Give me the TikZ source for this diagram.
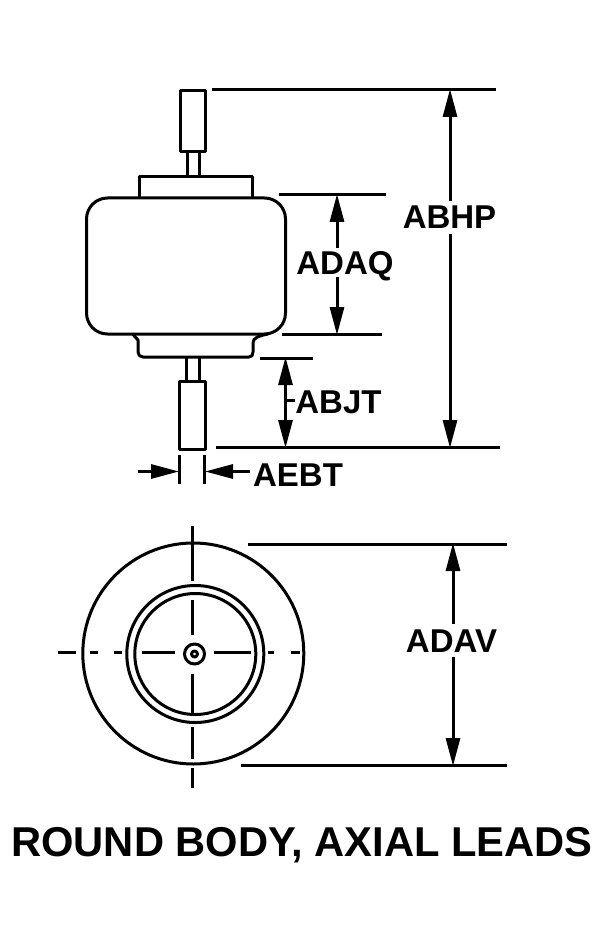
\documentclass[tikz,border=0pt]{standalone}
\usepackage{fontspec}
\setmainfont{Liberation Sans}
\usetikzlibrary{arrows.meta}
\tikzset{
  part/.style={line width=3pt,draw=black,line join=round},
  ext/.style={line width=3pt,draw=black},
  dim/.style={line width=3pt,draw=black,{Triangle[length=28pt,width=14pt]}-{Triangle[length=28pt,width=14pt]},shorten >=-1pt,shorten <=-1pt},
  single/.style={line width=3pt,draw=black,-{Triangle[length=28pt,width=14pt]},shorten >=-1pt},
  lbl/.style={font=\bfseries\fontsize{33}{33}\selectfont,text=black,inner xsep=0pt,inner ysep=5pt,anchor=base,fill=white,text depth=0pt}
}
\begin{document}
\begin{tikzpicture}[x=1pt,y=-1pt]
\useasboundingbox (0,0) rectangle (605,925);
% top view: part
\draw[part] (180.5,90.5) rectangle (205,151.5);
\draw[part] (187,152) -- (187,176) (199,152) -- (199,176);
\draw[part] (139,197) -- (139,176.5) -- (252.5,176.5) -- (252.5,197);
\draw[part,rounded corners=21pt] (86.5,198) rectangle (285.5,334);
\draw[part] (133,334.5) -- (138,340) -- (138,352) .. controls (138,355) and (140,357) .. (143,357) -- (249,357) .. controls (252,357) and (253,355) .. (253,352) -- (253,343) .. controls (253,338) and (258,336) .. (268,334);
\draw[part] (186.5,357) -- (186.5,381) (199.5,357) -- (199.5,381);
\draw[part] (179.5,381) rectangle (205,449);
% extension lines
\coordinate (hpT) at (450,90); \coordinate (hpB) at (450,447);
\coordinate (aqT) at (337,195); \coordinate (aqB) at (337,334);
\coordinate (jtT) at (285.5,358); \coordinate (jtB) at (285.5,447);
\coordinate (avT) at (453,544); \coordinate (avB) at (453,765);
\draw[ext] (212,90) -- (496,90);
\draw[ext] (279,195) -- (386,195);
\draw[ext] (282,334) -- (382,334);
\draw[ext] (260,358) -- (313,358);
\draw[ext] (216,447) -- (500,447);
\draw[ext] (248,544) -- (507,544);
\draw[ext] (241,765) -- (507,765);
\draw[ext] (179.5,455) -- (179.5,484);
\draw[ext] (204.5,455) -- (204.5,484);
% dimensions
\draw[dim] (hpT) -- (hpB);
\draw[dim] (aqT) -- (aqB);
\draw[dim] (jtT) -- (jtB);
\draw[dim] (avT) -- (avB);
\coordinate (jtTick) at (285.5,400);
\draw[ext] (jtTick) -- (295,400);
\coordinate (ebL0) at (138,471.5); \coordinate (ebL1) at (178,471.5);
\coordinate (ebR0) at (250,471.5); \coordinate (ebR1) at (206,471.5);
\draw[single] (ebL0) -- (ebL1);
\draw[single] (ebR0) -- (ebR1);
% labels
\node[lbl] (ABHP) at (449.5,229) {ABHP};
\node[lbl,inner ysep=3pt] (ADAQ) at (345,274) {ADAQ};
\node[lbl,fill=none] (ABJT) at (338.5,413) {ABJT};
\node[lbl,fill=none] (AEBT) at (298,486) {AEBT};
\node[lbl] (ADAV) at (451.5,652) {ADAV};
\node[lbl,fill=none,font=\bfseries\fontsize{41.7}{41.7}\selectfont] (title) at (302,856) {ROUND BODY, AXIAL LEADS};
% bottom view
\draw[part] (193.3,653.5) circle (110.5);
\draw[part] (195.3,654) circle (68.5);
\draw[part] (195.3,654) circle (60.5);
\draw[part] (194.5,654) circle (10);
\draw[part] (194.5,654) circle (3);
\draw[ext] (192.3,526) -- (192.3,581);
\draw[ext] (192.3,600) -- (192.3,635);
\draw[ext] (192.3,674) -- (192.3,713);
\draw[ext] (192.3,727) -- (192.3,759);
\draw[ext] (192.3,768) -- (192.3,788);
\draw[ext] (58,652.5) -- (76,652.5);
\draw[ext] (90,652.5) -- (98,652.5);
\draw[ext] (114,652.5) -- (122,652.5);
\draw[ext] (142,652.5) -- (175,652.5);
\draw[ext] (214,652.5) -- (251,652.5);
\draw[ext] (268,652.5) -- (274,652.5);
\draw[ext] (291,652.5) -- (300,652.5);
\end{tikzpicture}
\end{document}
